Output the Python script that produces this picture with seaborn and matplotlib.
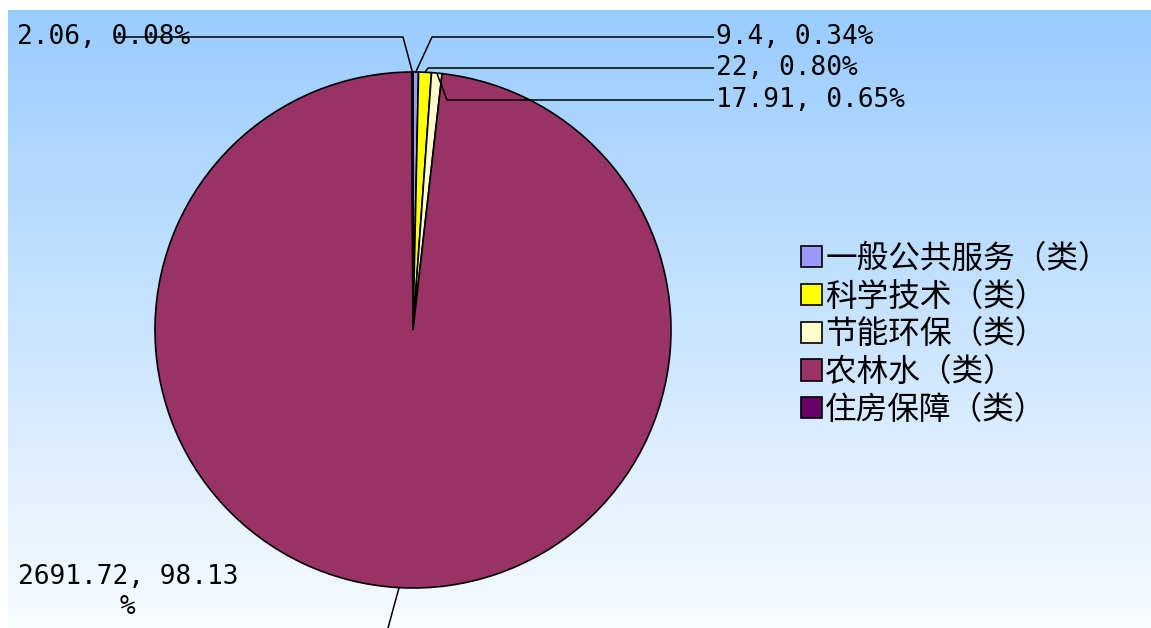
import numpy as np
import matplotlib
matplotlib.use("Agg")
import matplotlib.pyplot as plt
import seaborn as sns

# data
categories = ["一般公共服务（类）", "科学技术（类）", "节能环保（类）", "农林水（类）", "住房保障（类）"]
amounts = [9.4, 22, 17.91, 2691.72, 2.06]
colors = ["#9999FF", "#FFFF00", "#FFFFCC", "#993366", "#660066"]

sns.set_theme(style="white")
plt.rcParams['font.family'] = ['Noto Sans CJK SC', 'DejaVu Sans']

W, H = 1151, 628
fig = plt.figure(figsize=(W / 100, H / 100), dpi=100)
ax = fig.add_axes([0, 0, 1, 1])

# gradient background (light blue -> almost white)
top = np.array([153, 204, 255]) / 255
bot = np.array([248, 251, 255]) / 255
t = np.linspace(0, 1, 256)[:, None]
grad = (top[None, :] * (1 - t) + bot[None, :] * t)[:, None, :]
ax.imshow(grad, extent=(8, W, 0, H - 10), aspect='auto', zorder=0, interpolation='bilinear')

cx, cy, r = 413, H - 330, 258
pal = sns.color_palette(colors)
wedges, _ = ax.pie(amounts, colors=pal, startangle=90, counterclock=False,
                   center=(cx, cy), radius=r,
                   wedgeprops=dict(edgecolor='black', linewidth=1.2), frame=True)
for w in wedges:
    w.set_zorder(2)

ax.set_xlim(0, W)
ax.set_ylim(0, H)
ax.set_aspect('equal')
ax.axis('off')

total = sum(amounts)
pcts = [a / total * 100 for a in amounts]
cum = np.cumsum([0] + amounts[:-1])
mids = [90 - 360 * (c + a / 2) / total for c, a in zip(cum, amounts)]

# label layout (pixel coords from the top-left): elbow, line end, text pos
layout = {
    0: dict(elbow=(432, 37), end=(714, 37), text=(716, 37), ha='left'),
    1: dict(elbow=(428, 68), end=(714, 68), text=(716, 68), ha='left'),
    2: dict(elbow=(447, 100), end=(714, 100), text=(716, 100), ha='left'),
    3: dict(elbow=(388, 628), end=(388, 628), text=(128, 592), ha='center'),
    4: dict(elbow=(403, 37), end=(115, 37), text=(17, 37), ha='left'),
}

mono = 'DejaVu Sans Mono'
for i, a in enumerate(amounts):
    lay = layout[i]
    ang = np.deg2rad(mids[i])
    x0, y0 = cx + r * np.cos(ang), cy + r * np.sin(ang)
    xs = [x0, lay['elbow'][0], lay['end'][0]]
    ys = [y0, H - lay['elbow'][1], H - lay['end'][1]]
    ax.plot(xs, ys, color='black', lw=1.1, zorder=3, solid_capstyle='butt')
    label = f"{a:g}, {pcts[i]:.2f}%"
    if i == 3:
        label = label.replace("%", "\n%")
    ax.text(lay['text'][0], H - lay['text'][1], label, ha=lay['ha'], va='center',
            fontsize=18.8, family=mono, color='black', zorder=4,
            multialignment='center', linespacing=1.15)

leg = ax.legend(wedges, categories, loc='upper left', bbox_to_anchor=(801 / W, 1 - 243 / H),
                bbox_transform=fig.transFigure, frameon=False, fontsize=22.8,
                handlelength=0.65, handleheight=0.65, handletextpad=0.12,
                labelspacing=0.18, borderpad=0, borderaxespad=0)
for txt in leg.get_texts():
    txt.set_color('black')

fig.savefig("out.png", dpi=100, facecolor='white')
